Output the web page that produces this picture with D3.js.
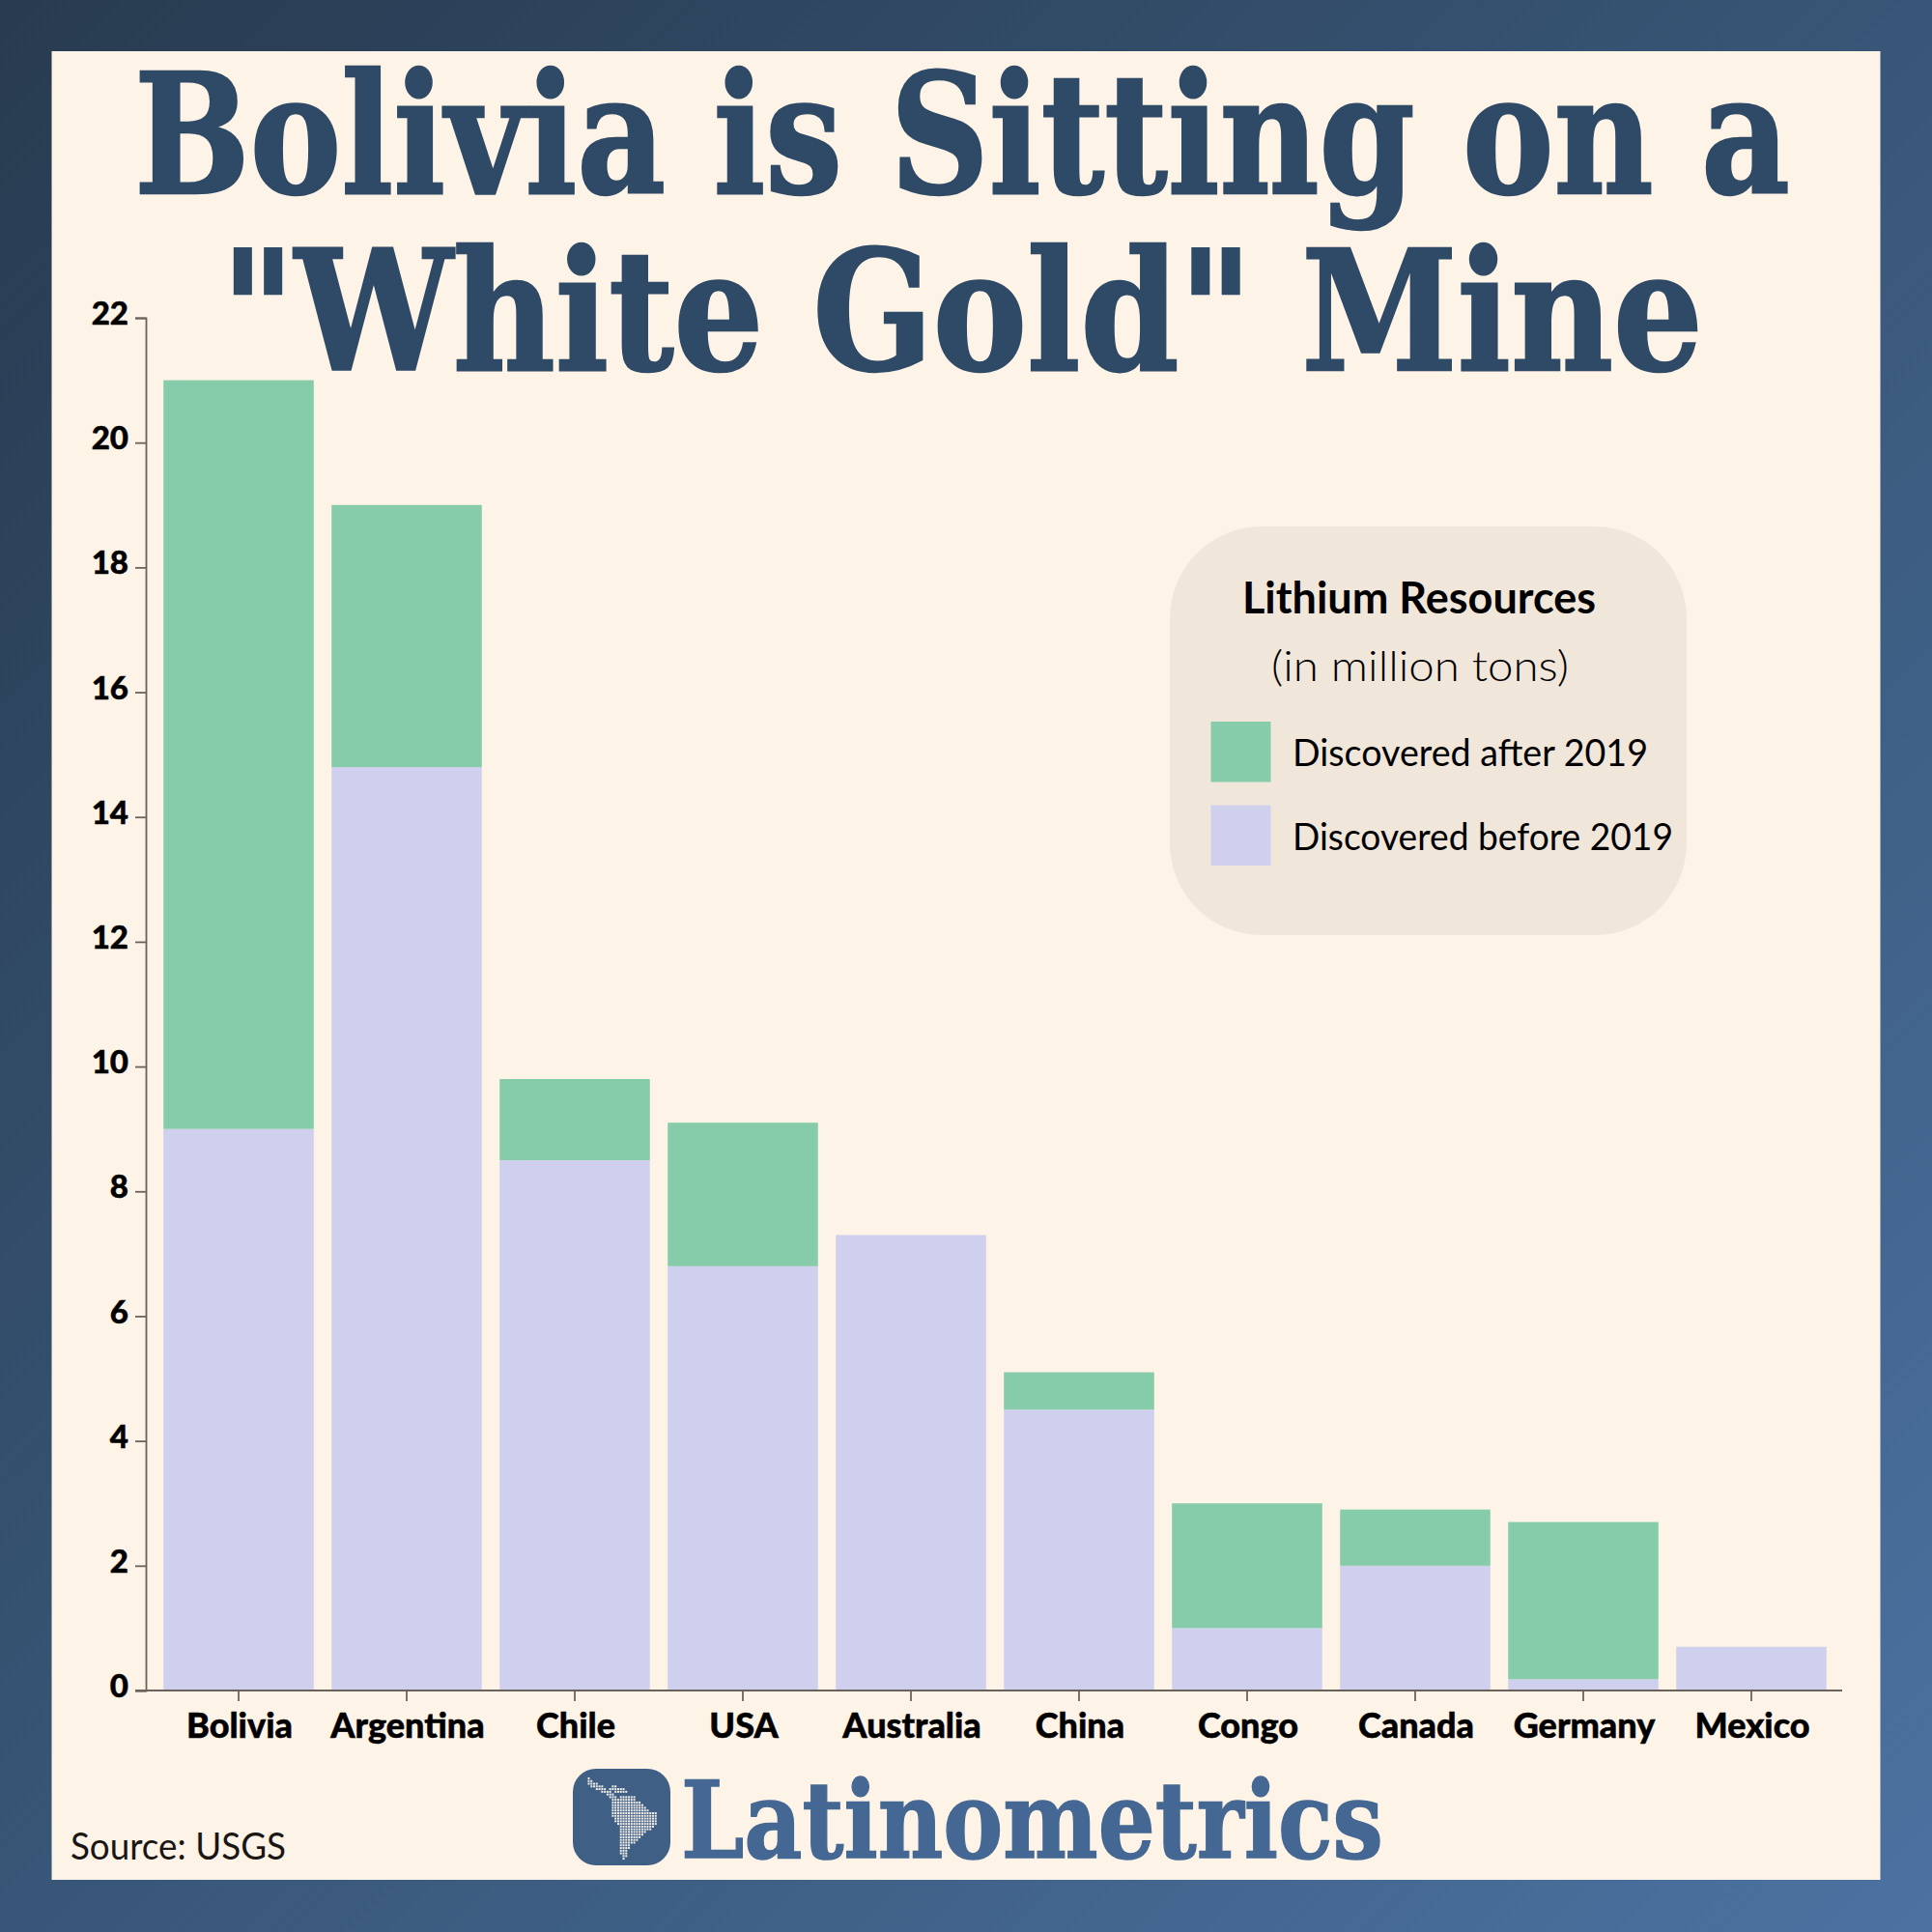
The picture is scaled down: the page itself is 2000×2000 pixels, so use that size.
<!DOCTYPE html>
<html>
<head>
<meta charset="utf-8">
<script src="https://cdn.jsdelivr.net/npm/d3@7"></script>
<style>
  html, body { margin: 0; padding: 0; background: #fff; }
  text { font-family: Lato, sans-serif; }
  .tick text { font-weight: 900; fill: #000; stroke: #000; stroke-width: 0.5; }
  .domain, .tick line { stroke: #6b625c; stroke-width: 1.8; }
</style>
</head>
<body>
<svg id="chart"></svg>
<script>
const countries = ["Bolivia", "Argentina", "Chile", "USA", "Australia", "China", "Congo", "Canada", "Germany", "Mexico"];
const before2019 = [9, 14.8, 8.5, 6.8, 7.3, 4.5, 1, 2, 0.18, 0.7];
const after2019 = [12, 4.2, 1.3, 2.3, 0, 0.6, 2, 0.9, 2.52, 0];
const yTicks = [0, 2, 4, 6, 8, 10, 12, 14, 16, 18, 20, 22];
const seriesKeys = ["before", "after"];
const seriesLabels = ["Discovered after 2019", "Discovered before 2019"];

const colors = { before: "#cfd0ee", after: "#86cbaa" };
const size = 2000;

// dots of the little map in the logo
const logoMask = [
  "#.........................",
  "##........................",
  "####......................",
  ".#####...##...............",
  "...####.######............",
  ".....####.#####...........",
  ".......###................",
  "........###.######........",
  ".........#########........",
  ".........###########......",
  ".........############.....",
  ".........#############....",
  ".........##############...",
  ".........#################",
  ".........#################",
  "..........################",
  "..........################",
  "...........###############",
  "............#############.",
  "............############..",
  "............##########....",
  "............#########.....",
  "............########......",
  "............#######.......",
  "............######........",
  "............####..........",
  "............####..........",
  "............###...........",
  "............###...........",
  ".............##...........",
  ".............#............"
];

const svg = d3.select("#chart").attr("width", size).attr("height", size);

const defs = svg.append("defs");
const grad = defs.append("linearGradient").attr("id", "bg")
  .attr("x1", 0).attr("y1", 0).attr("x2", 1).attr("y2", 1);
grad.append("stop").attr("offset", "0%").attr("stop-color", "#283b50");
grad.append("stop").attr("offset", "50%").attr("stop-color", "#385677");
grad.append("stop").attr("offset", "100%").attr("stop-color", "#4b72a1");

svg.append("rect").attr("width", size).attr("height", size).attr("fill", "url(#bg)");
svg.append("rect").attr("x", 53.5).attr("y", 53).attr("width", 1893).attr("height", 1893).attr("fill", "#fef3e7");

// scales
const x = d3.scaleBand().domain(countries).range([160, 1900]).paddingInner(0.106).paddingOuter(0.053);
const y = d3.scaleLinear().domain([0, 22]).range([1750, 329]);

// bars
const rows = countries.map((c, i) => ({ country: c, before: before2019[i], after: after2019[i] }));
const stacked = d3.stack().keys(seriesKeys)(rows);
svg.append("g").selectAll("g").data(stacked).join("g")
  .attr("fill", d => colors[d.key])
  .selectAll("rect").data(d => d).join("rect")
  .attr("x", d => x(d.data.country))
  .attr("width", x.bandwidth())
  .attr("y", d => y(d[1]))
  .attr("height", d => y(d[0]) - y(d[1]));

// axes
const yAxis = svg.append("g").attr("transform", "translate(151,0)")
  .call(d3.axisLeft(y).tickValues(yTicks).tickSize(11).tickSizeOuter(11).tickPadding(7));
yAxis.selectAll(".tick text").attr("font-size", 33).attr("dy", "0.2em");

const xAxis = svg.append("g").attr("transform", "translate(0,1750)")
  .call(d3.axisBottom(x).tickSize(11).tickSizeOuter(0).tickPadding(12));
xAxis.select(".domain").attr("d", "M140,0H1907");
xAxis.selectAll(".tick text").attr("font-size", 36).attr("font-weight", 700).attr("dx", 1);

// squeezes a line of text to the width it has in the picture
function fitWidth(sel, left, baseline, width) {
  const natural = sel.node().getComputedTextLength();
  sel.attr("transform", `translate(${left},${baseline}) scale(${width / natural},1)`);
}

// title
const titleLines = ["Bolivia is Sitting on a", "\"White Gold\" Mine"];
const titleLayout = [[139, 200, 1714], [229, 383, 1534]];
svg.append("g").selectAll("text").data(titleLines).join("text")
  .attr("font-size", 172).attr("font-weight", 700)
  .attr("fill", "#2f4a66").attr("stroke", "#2f4a66").attr("stroke-width", 2.5)
  .style("font-family", "'DejaVu Serif', serif")
  .text(d => d)
  .each(function (d, i) { fitWidth(d3.select(this), ...titleLayout[i]); });

// legend
const legend = svg.append("g");
legend.append("rect").attr("x", 1211).attr("y", 545).attr("width", 535).attr("height", 423)
  .attr("rx", 95).attr("fill", "#f1e6da");
legend.append("text").attr("x", 1286).attr("y", 635).attr("font-size", 45).attr("font-weight", 700)
  .attr("textLength", 366).attr("lengthAdjust", "spacingAndGlyphs").text("Lithium Resources");
legend.append("text").attr("x", 1316).attr("y", 705).attr("font-size", 44).attr("font-weight", 300)
  .attr("textLength", 308).attr("lengthAdjust", "spacingAndGlyphs").text("(in million tons)");
const legendKeys = ["after", "before"];
legend.selectAll(".key").data(legendKeys).join("rect").attr("class", "key")
  .attr("x", 1253.5).attr("y", (d, i) => 747 + i * 86.5)
  .attr("width", 62).attr("height", 62.5).attr("fill", d => colors[d]);
legend.selectAll(".lab").data(seriesLabels).join("text").attr("class", "lab")
  .attr("x", 1338).attr("y", (d, i) => 793 + i * 87)
  .attr("font-size", 38)
  .attr("textLength", (d, i) => i ? 394 : 368).attr("lengthAdjust", "spacingAndGlyphs")
  .text(d => d);

// source
svg.append("text").attr("x", 73).attr("y", 1925).attr("font-size", 38).attr("fill", "#1a1614")
  .attr("textLength", 223).attr("lengthAdjust", "spacingAndGlyphs").text("Source: USGS");

// logo
const logo = svg.append("g");
logo.append("rect").attr("x", 593).attr("y", 1831).attr("width", 101).attr("height", 100)
  .attr("rx", 24).attr("fill", "#3f5f85");
const dots = [];
logoMask.forEach((row, r) => row.split("").forEach((ch, c) => { if (ch === "#") dots.push([c, r]); }));
logo.append("g").attr("fill", "#f4efe8").selectAll("rect").data(dots).join("rect")
  .attr("x", d => 608.5 + d[0] * 2.77).attr("y", d => 1840 + d[1] * 2.77)
  .attr("width", 2).attr("height", 2);
const brand = svg.append("text").attr("font-size", 110).attr("font-weight", 700)
  .style("font-family", "'DejaVu Serif', serif")
  .attr("fill", "#446893").attr("stroke", "#446893").attr("stroke-width", 1.5)
  .text("Latinometrics");
fitWidth(brand, 705, 1923, 727);
</script>
</body>
</html>
